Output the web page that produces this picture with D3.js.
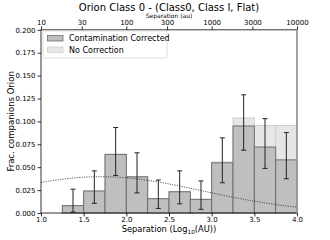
<!DOCTYPE html>
<html>
<head>
<meta charset="utf-8">
<script src="https://cdn.jsdelivr.net/npm/d3@7"></script>
<style>
  body { margin: 0; background: #fff; }
  text { font-family: "DejaVu Sans", sans-serif; fill: #000; }
</style>
</head>
<body>
<div id="chart"></div>
<script>
// bin left edges in log10(AU), width 0.25
var binEdges = [1.0, 1.25, 1.5, 1.75, 2.0, 2.25, 2.5, 2.75, 3.0, 3.25, 3.5, 3.75];
var corrected = [0.0, 0.008, 0.024, 0.064, 0.0395, 0.0156, 0.0232, 0.0149, 0.0548, 0.095, 0.072, 0.058];
var noCorrection = [0.0, 0.008, 0.024, 0.064, 0.0395, 0.0156, 0.0232, 0.0149, 0.0557, 0.1037, 0.0955, 0.0955];
var errLow = [null, 0.001, 0.0106, 0.041, 0.022, 0.005, 0.010, 0.004, 0.033, 0.0686, 0.0487, 0.0374];
var errHigh = [null, 0.026, 0.046, 0.0933, 0.0657, 0.036, 0.046, 0.035, 0.082, 0.129, 0.103, 0.0878];

// dotted model curve, sampled by eye
var curveX = [1.0, 1.25, 1.5, 1.75, 2.0, 2.25, 2.5, 2.75, 3.0, 3.25, 3.5, 3.75, 4.0];
var curveY = [0.0334, 0.0369, 0.0391, 0.0396, 0.0384, 0.0356, 0.0317, 0.0270, 0.0220, 0.0172, 0.0129, 0.0092, 0.0063];

var yTicks = [0, 0.025, 0.05, 0.075, 0.1, 0.125, 0.15, 0.175, 0.2];
var xTicks = [1.0, 1.5, 2.0, 2.5, 3.0, 3.5, 4.0];
var topTicks = [10, 30, 100, 300, 1000, 3000, 10000];

var W = 330, H = 240;
var m = {left: 41, right: 33, top: 29.8, bottom: 27};
var binW = 0.25;

var svg = d3.select('#chart').append('svg')
  .attr('width', W).attr('height', H);

var x = d3.scaleLinear().domain([1, 4]).range([m.left, W - m.right]);
var y = d3.scaleLinear().domain([0, 0.2]).range([H - m.bottom, m.top]);
var xTop = d3.scaleLog().domain([10, 10000]).range([m.left, W - m.right]);

// no correction bars (behind)
svg.append('g').selectAll('rect').data(binEdges).enter().append('rect')
  .attr('x', function(d) { return x(d); })
  .attr('width', function(d) { return x(d + binW) - x(d); })
  .attr('y', function(d, i) { return y(noCorrection[i]); })
  .attr('height', function(d, i) { return y(0) - y(noCorrection[i]); })
  .style('fill', '#e6e6e6')
  .style('stroke', '#cfcfcf')
  .style('stroke-width', 1);

// corrected bars
svg.append('g').selectAll('rect').data(binEdges).enter().append('rect')
  .attr('x', function(d) { return x(d); })
  .attr('width', function(d) { return x(d + binW) - x(d); })
  .attr('y', function(d, i) { return y(corrected[i]); })
  .attr('height', function(d, i) { return y(0) - y(corrected[i]); })
  .style('fill', '#bfbfbf')
  .style('stroke', '#6e6e6e')
  .style('stroke-width', 1);

// error bars
var eb = svg.append('g').style('stroke', '#222').style('stroke-width', 1);
binEdges.forEach(function(d, i) {
  if (errLow[i] === null) return;
  var cx = x(d + binW / 2);
  eb.append('line').attr('x1', cx).attr('x2', cx)
    .attr('y1', y(errLow[i])).attr('y2', y(errHigh[i]));
  [errLow[i], errHigh[i]].forEach(function(v) {
    eb.append('line').attr('x1', cx - 2.5).attr('x2', cx + 2.5)
      .attr('y1', y(v)).attr('y2', y(v));
  });
});

// dotted curve
var line = d3.line()
  .x(function(d, i) { return x(curveX[i]); })
  .y(function(d) { return y(d); })
  .curve(d3.curveMonotoneX);
svg.append('path').datum(curveY)
  .attr('d', line)
  .style('fill', 'none')
  .style('stroke', '#333')
  .style('stroke-width', 0.8)
  .style('stroke-dasharray', '1.2,1.2');

// axes
var fmt = d3.format('.3f');
var yAxis = svg.append('g').attr('transform', 'translate(' + m.left + ',0)')
  .call(d3.axisLeft(y).tickValues(yTicks).tickFormat(fmt).tickSize(3.5).tickPadding(2));
var xAxis = svg.append('g').attr('transform', 'translate(0,' + (H - m.bottom) + ')')
  .call(d3.axisBottom(x).tickValues(xTicks).tickFormat(d3.format('.1f')).tickSize(3.5).tickPadding(0.5));
var topAxis = svg.append('g').attr('transform', 'translate(0,' + m.top + ')')
  .call(d3.axisTop(xTop).tickValues(topTicks).tickFormat(d3.format('d')).tickSize(3.5).tickPadding(1.5));
[yAxis, xAxis, topAxis].forEach(function(a) {
  a.selectAll('text').style('font-size', '7px').style('font-family', 'DejaVu Sans');
  a.select('.domain').remove();
  a.selectAll('line').style('stroke', '#000').style('stroke-width', 0.8);
});

// frame
svg.append('line').attr('x1', m.left).attr('x2', m.left).attr('y1', m.top).attr('y2', y(0))
  .style('stroke', '#000').style('stroke-width', 0.8);
svg.append('line').attr('x1', m.left).attr('x2', x(4)).attr('y1', m.top).attr('y2', m.top)
  .style('stroke', '#000').style('stroke-width', 0.8);
svg.append('line').attr('x1', m.left).attr('x2', x(4)).attr('y1', y(0)).attr('y2', y(0))
  .style('stroke', '#000').style('stroke-width', 0.8);
svg.append('line').attr('x1', x(4)).attr('x2', x(4)).attr('y1', m.top).attr('y2', y(0))
  .style('stroke', '#9a9a9a').style('stroke-width', 1.8);

// legend
var lg = svg.append('g');
lg.append('rect').attr('x', 43).attr('y', 31).attr('width', 124).attr('height', 27)
  .attr('rx', 1.5)
  .style('fill', '#fff').style('fill-opacity', 0.8).style('stroke', '#d6d6d6').style('stroke-width', 0.8);
lg.append('rect').attr('x', 47.5).attr('y', 35.5).attr('width', 15.5).attr('height', 5.5)
  .style('fill', '#bfbfbf').style('stroke', '#6e6e6e').style('stroke-width', 0.8);
lg.append('rect').attr('x', 47.5).attr('y', 47).attr('width', 15.5).attr('height', 5.5)
  .style('fill', '#e6e6e6').style('stroke', '#cfcfcf').style('stroke-width', 0.8);
lg.append('text').attr('x', 69).attr('y', 41.2).style('font-size', '8px').text('Contamination Corrected');
lg.append('text').attr('x', 69).attr('y', 52.8).style('font-size', '8px').text('No Correction');

// titles
svg.append('text').attr('x', (m.left + x(4)) / 2).attr('y', 11)
  .attr('text-anchor', 'middle').style('font-size', '10px')
  .text('Orion Class 0 - (Class0, Class I, Flat)');
svg.append('text').attr('x', (m.left + x(4)) / 2).attr('y', 18)
  .attr('text-anchor', 'middle').style('font-size', '6px')
  .text('Separation (au)');

var xl = svg.append('text').attr('x', (m.left + x(4)) / 2).attr('y', 232)
  .attr('text-anchor', 'middle').style('font-size', '8.3px');
xl.append('tspan').text('Separation (Log');
xl.append('tspan').attr('dy', 2).style('font-size', '5.8px').text('10');
xl.append('tspan').attr('dy', -2).text('(AU))');

svg.append('text')
  .attr('transform', 'translate(14,' + ((m.top + y(0)) / 2) + ') rotate(-90)')
  .attr('text-anchor', 'middle').style('font-size', '8.5px')
  .text('Frac. companions Orion');
</script>
</body>
</html>
